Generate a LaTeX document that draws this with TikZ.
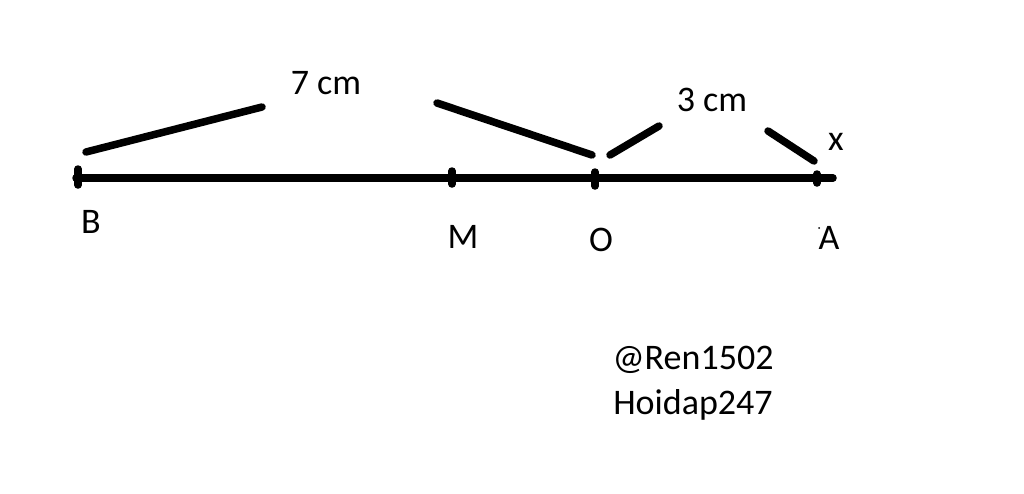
\documentclass[tikz,border=0pt]{standalone}
\usepackage{fontspec}
\setmainfont{Carlito}
\begin{document}
\begin{tikzpicture}[x=1pt,y=-1pt,
  seg/.style={line width=7.5pt,line cap=round},
  tickmark/.style={line width=7.5pt,line cap=round},
  lbl/.style={font=\fontsize{36}{40}\selectfont,inner sep=0pt}]
\useasboundingbox[fill=white] (0,0) rectangle (1024,493);
% points
\coordinate (B) at (78,178);
\coordinate (M) at (452,178);
\coordinate (O) at (595,178);
\coordinate (A) at (817,178);
\coordinate (E) at (833,178);
\draw[seg] (76,178) -- (E);
\draw[tickmark] (78,169) -- (78,185);
\draw[tickmark] (452,171) -- (452,184);
\draw[tickmark] (595,172) -- (595,186);
\draw[tickmark] (817,174) -- (817,183);
% brace segments
\coordinate (p1) at (86,152); \coordinate (p2) at (262,107);
\coordinate (p3) at (437,103); \coordinate (p4) at (592,155);
\coordinate (q1) at (610,155); \coordinate (q2) at (659,126);
\coordinate (q3) at (768,131); \coordinate (q4) at (814,161);
\draw[seg] (p1) -- (p2);
\draw[seg] (p3) -- (p4);
\draw[seg] (q1) -- (q2);
\draw[seg] (q3) -- (q4);
% labels
\node[lbl] (l7) at (326,83) {7 cm};
\node[lbl] (l3) at (712,100) {3 cm};
\node[lbl] (lx) at (836,142) {x};
\node[lbl] (lB) at (91,222) {B};
\node[lbl] (lM) at (463,237) {M};
\node[lbl] (lO) at (601,240) {O};
\node[lbl] (lA) at (829,238) {A};
\fill (819,228) circle (1pt);
\node[lbl] (w1) at (693,360) {@Ren1502};
\node[lbl] (w2) at (693,405) {Hoidap247};
\end{tikzpicture}
\end{document}
